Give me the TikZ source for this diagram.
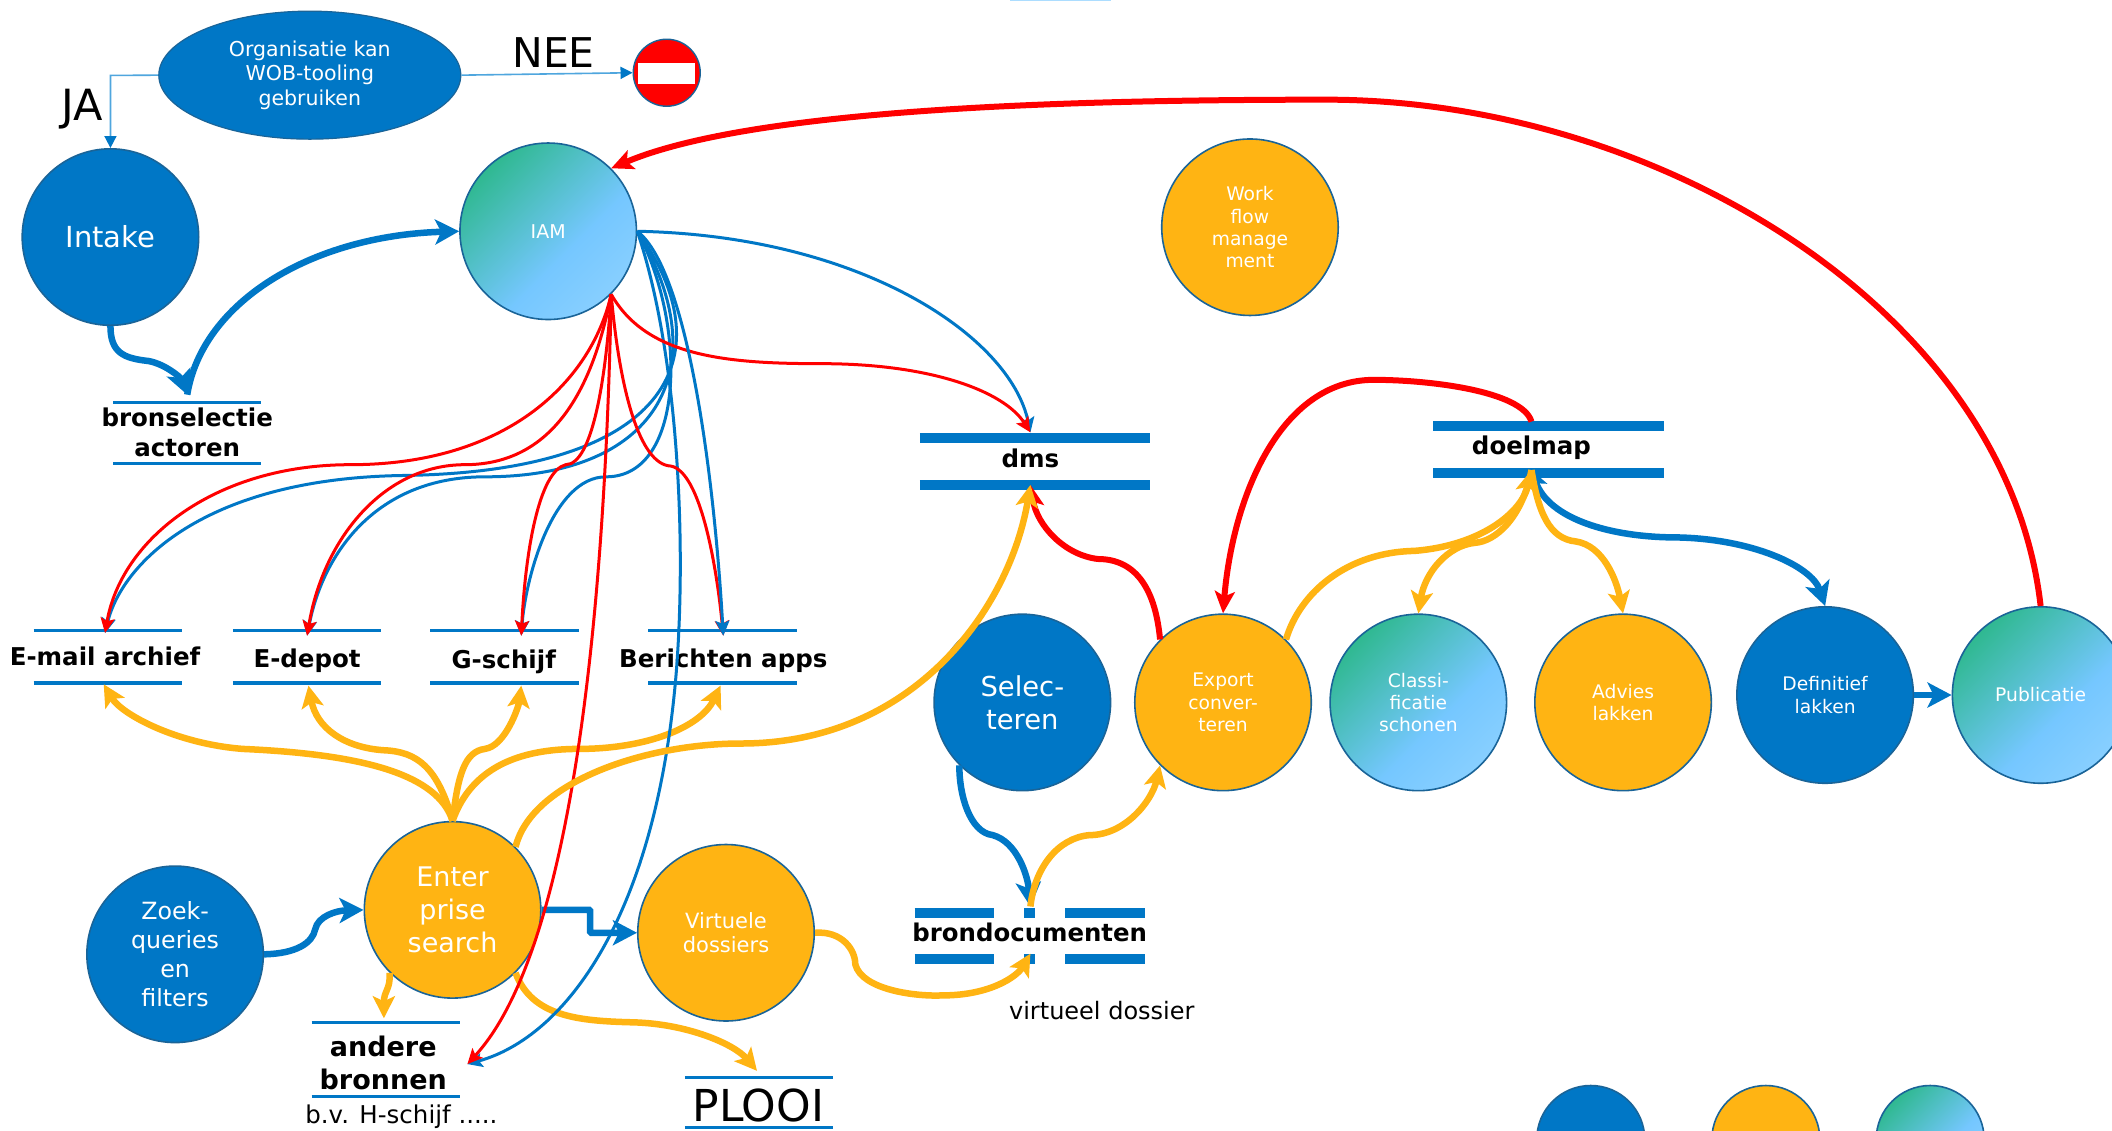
\documentclass[tikz,border=0pt]{standalone}
\usepackage{fontspec}
\setmainfont{DejaVu Sans}
\usetikzlibrary{arrows.meta,shapes.geometric,calc}
\definecolor{bl}{HTML}{0077C6}
\definecolor{yl}{HTML}{FFB413}
\definecolor{rd}{HTML}{FF0000}
\definecolor{edge}{HTML}{1A6498}
\definecolor{lineb}{HTML}{4FA6DE}
\definecolor{gg}{HTML}{2DB88D}
\definecolor{gb}{HTML}{75C7FF}
\definecolor{gl}{HTML}{A3DBFF}
\pgfdeclarehorizontalshading{tealsky}{100bp}{color(0bp)=(gg); color(24bp)=(gg); color(58bp)=(gb); color(100bp)=(gl)}
\newcommand{\fs}[2]{\fontsize{#1}{#2}\selectfont}
\tikzset{
  disc/.style={circle,draw=edge,line width=1.6pt,minimum size=176.5pt,inner sep=0pt,align=center,text=white},
  blu/.style={disc,fill=bl},
  yel/.style={disc,fill=yl},
  tea/.style={disc,shading=tealsky,shading angle=-45},
  sto/.style={inner sep=0pt,align=center,text=black,font=\bfseries\fs{24.5}{33}},
  plain/.style={inner sep=0pt,align=center,text=black},
  barthin/.style={draw=bl,line width=3.2pt},
  barthick/.style={draw=bl,line width=10pt},
  bth/.style={draw=bl,line width=3pt,-{Stealth[length=15pt,width=14pt,inset=3pt]}},
  rth/.style={draw=rd,line width=3pt,-{Stealth[length=15pt,width=14pt,inset=3pt]}},
  bfat/.style={draw=bl,line width=6.5pt,-{Stealth[length=24pt,width=25pt,inset=6pt]}},
  yfat/.style={draw=yl,line width=6.5pt,-{Stealth[length=22pt,width=22pt,inset=5pt]}},
  rfat/.style={draw=rd,line width=6pt,-{Stealth[length=22pt,width=20pt,inset=5pt]}},
  hair/.style={draw=lineb,line width=1.6pt,-{Triangle[length=12pt,width=12pt,color=bl]}},
}
\begin{document}
\begin{tikzpicture}[x=1.34694pt,y=-1.34694pt]
\useasboundingbox (0,0) rectangle (1568,838.95);
\clip (0,0) rectangle (1568,838.95);
\fill[white] (0,0) rectangle (1568,838.95);
\fill[gb!60!white] (750,0) rectangle (825,0.8);

\coordinate (orgjoint) at (82,56);
\coordinate (bronin) at (139,293);
\coordinate (mailin) at (78,470);
\coordinate (depotin) at (228,472);
\coordinate (gin) at (387,472);
\coordinate (berin) at (537,472);
\coordinate (mailout) at (77,508);
\coordinate (depotout) at (229,509);
\coordinate (gout) at (387,509);
\coordinate (berout) at (535,509);
\coordinate (dmsin) at (765,321);
\coordinate (dmsout) at (765,360);
\coordinate (andin) at (285,756);
\coordinate (andside) at (347,790);
\coordinate (plin) at (562,795);
\coordinate (brtop) at (765,673);
\coordinate (brbot) at (765,708);
\coordinate (doeltop) at (1137,313);
\coordinate (doelbot) at (1137,349);

% stores
\node[sto,minimum width=148pt,minimum height=60.6pt] (bron) at (139,321.5) {};
\node[sto,minimum width=148pt,minimum height=52.5pt] (mail) at (80,487.5) {};
\node[sto,minimum width=148pt,minimum height=52.5pt] (depot) at (228,487.5) {};
\node[sto,minimum width=148pt,minimum height=52.5pt] (gsch) at (374.5,487.5) {};
\node[sto,minimum width=148pt,minimum height=52.5pt] (ber) at (536.5,487.5) {};
\node[sto,minimum width=230pt,minimum height=47pt] (dms) at (768.5,342.5) {};
\node[sto,minimum width=230pt,minimum height=47pt] (doel) at (1149.5,333.5) {};
\node[sto,minimum width=230pt,minimum height=46pt] (brond) at (764.5,695) {};
\node[sto,minimum width=148pt,minimum height=74pt] (and) at (286.5,786.5) {};
\node[sto,minimum width=148pt,minimum height=50pt] (pl) at (563.5,818.5) {};
\foreach \n in {bron,mail,depot,gsch,ber,and,pl}{
  \draw[barthin] (\n.north west) -- (\n.north east);
  \draw[barthin] (\n.south west) -- (\n.south east);
}
\foreach \n in {dms,doel}{
  \draw[barthick] (\n.north west) -- (\n.north east);
  \draw[barthick] (\n.south west) -- (\n.south east);
}
\foreach \s in {north,south}{
  \draw[barthick] (brond.\s\space west) -- ++(59,0);
  \draw[barthick] (brond.\s\space east) -- ++(-59,0);
  \draw[barthick] ($(brond.\s)+(-4,0)$) -- ++(8,0);
}

% discs
\node[ellipse,draw=edge,line width=1.2pt,fill=bl,minimum width=302pt,minimum height=128pt,inner sep=0pt,align=center,text=white,font=\fs{20.5}{24.5}] (org) at (230,55.8) {Organisatie kan\\WOB-tooling\\gebruiken};
\node[circle,draw=edge,line width=1.4pt,fill=rd,minimum size=67pt,inner sep=0pt] (stop) at (495,54) {};
\fill[white] (473.5,47) rectangle (516,62.5);
\node[blu,font=\fs{29}{34}] (intake) at (82,176) {Intake};
\node[tea,font=\fs{19}{23}] (iam) at (407,171.7) {IAM};
\node[yel,font=\fs{18.7}{22.3}] (wf) at (928,168.7) {Work\\flow\\manage\\ment};
\node[blu,font=\fs{27.4}{33}] (sel) at (759,521.5) {Selec-\\teren};
\node[yel,font=\fs{18.7}{22.3}] (exp) at (908,521.5) {Export\\conver-\\teren};
\node[tea,font=\fs{18.7}{22.3}] (cla) at (1053,521.5) {Classi-\\ficatie\\schonen};
\node[yel,font=\fs{18.7}{22.3}] (adv) at (1205,521.5) {Advies\\lakken};
\node[blu,font=\fs{18.7}{22.3}] (def) at (1355,516) {Definitief\\lakken};
\node[tea,font=\fs{18.7}{22.3}] (pub) at (1515,516) {Publicatie};
\node[blu,font=\fs{23.7}{29}] (zoek) at (130,708.5) {Zoek-\\queries\\en\\filters};
\node[yel,font=\fs{27}{33}] (ent) at (336,675.5) {Enter\\prise\\search};
\node[yel,font=\fs{21}{24.5}] (vir) at (539,692.5) {Virtuele\\dossiers};
\node[blu,minimum size=108pt] (lega) at (1181,846) {};
\node[yel,minimum size=108pt] (legb) at (1311,846) {};
\node[tea,minimum size=108pt] (legc) at (1433,846) {};

% store labels
\node[sto] at (139,321) {bronselectie\\[-3pt]actoren};
\node[sto] at (78,487) {E-mail archief};
\node[sto] at (228,490.5) {E-depot};
\node[sto] at (374,491.5) {G-schijf};
\node[sto] at (537,490.5) {Berichten apps};
\node[sto] at (765,340) {dms};
\node[sto] at (1137,332.5) {doelmap};
\node[sto,font=\bfseries\fs{24.4}{30}] at (764.5,692) {brondocumenten};
\node[sto,font=\bfseries\fs{27}{33}] at (284.5,789.5) {andere\\bronnen};
\node[plain,font=\fs{44}{48}] at (563,821) {PLOOI};
\node[plain,font=\fs{24.5}{28}] at (298,829) {b.v. H-schijf .....};
\node[plain,font=\fs{24}{28}] at (818,750) {virtueel dossier};
\node[plain,font=\fs{41}{46}] at (411,39) {NEE};
\node[plain,font=\fs{43}{46}] at (61,81) {JA};

% decision arrows
\draw[hair] (org.east) -- (stop.west);
\draw[hair] (org.west) -- (orgjoint) -- (intake.north);

% blue fat links
\draw[bfat] (intake.south) .. controls (82,262) and (92,266) .. (110,268) .. controls (122,270) and (134,280) .. (bronin);
\draw[bfat] (bronin) .. controls (150,225) and (230,175) .. (iam.west);
\draw[bfat] (zoek.east) .. controls (220,708) and (232,700) .. (234,690) .. controls (236,680) and (250,676) .. (ent.west);
\draw[bfat,rounded corners=1pt] (ent.east) -- ++(36,0) -- ++(0,17) -- (vir.west);
\draw[bfat] (sel.-135) .. controls (712,590) and (720,618) .. (737,620) .. controls (755,625) and (763,650) .. (brtop);
\draw[bfat,{Stealth[length=18pt,width=20pt,inset=4pt]}-{Stealth[length=24pt,width=25pt,inset=6pt]}] (doelbot) .. controls (1150,385) and (1195,399) .. (1245,399) .. controls (1300,400) and (1345,420) .. (def.north);
\draw[bfat] (def.east) -- (pub.west);

% yellow links
\draw[yfat] (ent.north) .. controls (325,575) and (270,560) .. (180,556) .. controls (130,552) and (90,530) .. (mailout);
\draw[yfat] (ent.north) .. controls (325,570) and (310,558) .. (285,557) .. controls (255,555) and (235,540) .. (depotout);
\draw[yfat] (ent.north) .. controls (340,575) and (345,558) .. (360,556) .. controls (375,554) and (385,525) .. (gout);
\draw[yfat] (ent.north) .. controls (350,570) and (385,556) .. (430,556) .. controls (480,556) and (520,540) .. (berout);
\draw[yfat] (ent.-135) .. controls (290,735) and (285,735) .. (andin);
\draw[yfat] (ent.-45) .. controls (395,755) and (430,758) .. (470,759) .. controls (510,760) and (545,775) .. (plin);
\draw[yfat] (vir.east) .. controls (625,691) and (635,705) .. (635,716) .. controls (640,735) and (680,740) .. (700,739) .. controls (735,739) and (755,725) .. (brbot);
\draw[yfat] (brtop) .. controls (768,645) and (785,622) .. (809,620) .. controls (835,620) and (855,595) .. (exp.-135);
\draw[yfat] (exp.45) .. controls (965,440) and (1000,410) .. (1050,409) .. controls (1100,405) and (1130,380) .. (doelbot);
\draw[yfat] (doelbot) .. controls (1130,385) and (1110,402) .. (1095,403) .. controls (1075,405) and (1058,425) .. (cla.north);
\draw[yfat] (doelbot) .. controls (1142,380) and (1150,400) .. (1170,402) .. controls (1190,405) and (1200,430) .. (adv.north);

% thin blue links
\draw[bth] (iam.east) .. controls (640,175) and (750,250) .. (dmsin);
\draw[bth] (iam.east) .. controls (537,260) and (503,350) .. (300,353) .. controls (150,355) and (90,420) .. (mailin);
\draw[bth] (iam.east) .. controls (532,270) and (492,354) .. (360,354) .. controls (280,354) and (240,410) .. (depotin);
\draw[bth] (iam.east) .. controls (510,240) and (509,354) .. (450,354) .. controls (410,354) and (390,430) .. (gin);
\draw[bth] (iam.east) .. controls (503,260) and (510,400) .. (502,500) .. controls (487,680) and (420,770) .. (andside);

% red links
\draw[rth] (iam.-45) .. controls (480,265) and (540,270) .. (610,270) .. controls (690,270) and (745,290) .. (dmsin);
\draw[rth] (iam.-45) .. controls (440,280) and (380,345) .. (260,345) .. controls (160,345) and (90,400) .. (mailin);
\draw[rth] (iam.-45) .. controls (440,290) and (410,345) .. (345,345) .. controls (285,345) and (240,400) .. (depotin);
\draw[rth] (iam.-45) .. controls (450,280) and (440,345) .. (420,345) .. controls (400,350) and (390,410) .. (gin);
\draw[rth] (iam.-45) .. controls (460,290) and (475,345) .. (498,346) .. controls (520,350) and (532,420) .. (berin);
\draw[bth] (iam.east) .. controls (510,200) and (530,350) .. (berin);
\draw[rth] (iam.-45) .. controls (450,420) and (430,700) .. (andside);
\draw[rfat] (exp.135) .. controls (858,440) and (845,415) .. (815,415) .. controls (790,412) and (770,390) .. (dmsout);
\draw[rfat] (doeltop) .. controls (1130,290) and (1060,282) .. (1020,282) .. controls (950,282) and (915,370) .. (exp.north);
\draw[rfat] (pub.north) .. controls (1490,230) and (1230,74) .. (985,74) .. controls (800,74) and (560,80) .. (iam.45);
\draw[yfat] (ent.45) .. controls (395,580) and (480,552) .. (550,552) .. controls (680,552) and (750,450) .. (dmsout);
\end{tikzpicture}
\end{document}
